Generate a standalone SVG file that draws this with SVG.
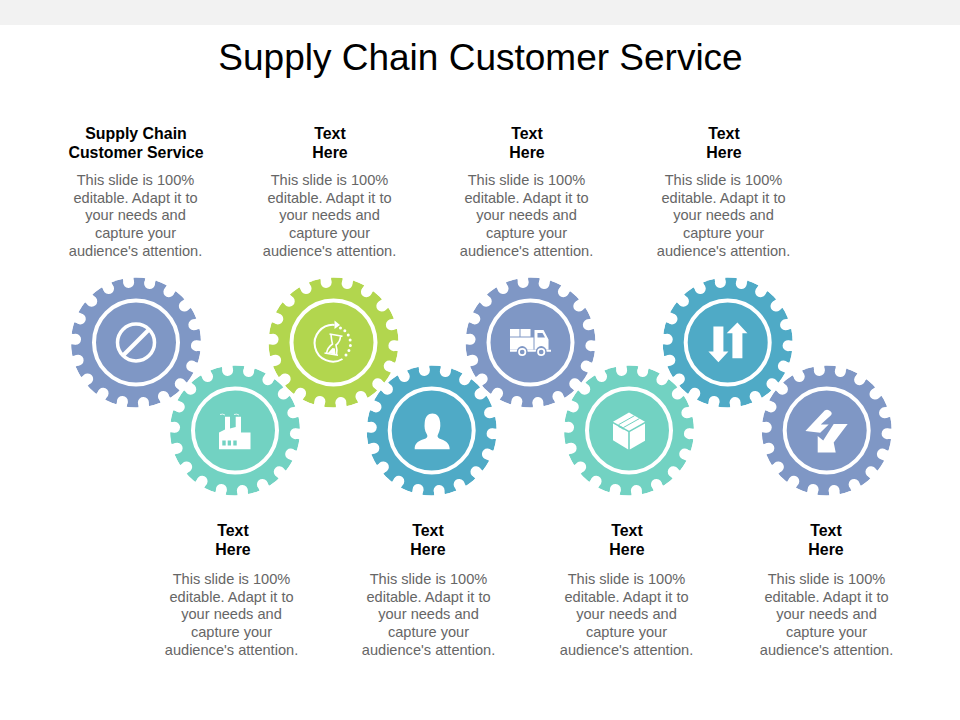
<svg xmlns="http://www.w3.org/2000/svg" width="960" height="720" viewBox="0 0 960 720">
<style>
text{font-family:"Liberation Sans",Arial,sans-serif;text-anchor:middle}
.title{font-size:37px;fill:#000}
.head{font-size:15.9px;font-weight:700;fill:#000}
.body{font-size:14.6px;fill:#666}
.ring{fill:none;stroke:#fff;stroke-width:4}
.w{fill:#fff}
.ln{fill:none;stroke:#fff}
.c1{fill:#7f97c5}.c2{fill:#72d2c2}.c3{fill:#b2d64e}.c4{fill:#4faac6}
</style>
<defs>
<mask id="gm" maskUnits="userSpaceOnUse" x="-70" y="-70" width="140" height="140">
<circle r="65" fill="#fff"/>
<circle r="60.5" transform="rotate(3)" fill="none" stroke="#000" stroke-width="11" stroke-linecap="round" pathLength="18" stroke-dasharray="0 1"/>
<circle r="63.5" transform="rotate(3)" fill="none" stroke="#000" stroke-width="7" pathLength="18" stroke-dasharray="0.48 0.52" stroke-dashoffset="0.24"/>
</mask>
</defs>
<rect width="960" height="720" fill="#fff"/>
<rect width="960" height="25" fill="#f2f2f2"/>
<text class="title" x="480.5" y="70">Supply Chain Customer Service</text>

<g id="gear-1" transform="translate(136,342.5)">
<circle r="65" class="c1" mask="url(#gm)"/><circle r="42" class="ring"/>
<circle r="18.5" class="ln" stroke-width="3.5"/><path d="M-13,13L13,-13" class="ln" stroke-width="4"/>
</g>
<g id="gear-2" transform="translate(235,430.5)">
<circle r="65" class="c2" mask="url(#gm)"/><circle r="42" class="ring"/>
<path class="w" d="M-16,18.7V2L-10,-1V-13.7H-5V-2L0.7,-3.5V-13.7H6V-2V2H15.5V18.7Z"/>
<path class="c2" d="M-12.7,10H-9.3V15H-12.7ZM-7.3,10H-4V15H-7.3ZM-1.7,10H1.7V15H-1.7Z"/>
<path class="ln" stroke-width="0.8" d="M-15,-16Q-12,-17 -10,-15.5M-1,-16Q2,-17 4,-15.5"/>
</g>
<g id="gear-3" transform="translate(333.5,342.5)">
<circle r="65" class="c3" mask="url(#gm)"/><circle r="42" class="ring"/>
<path class="ln" stroke-width="2" d="M1,-17.6A18.4,18.4 0 1 0 9,16.5"/>
<path class="w" d="M1,-22L6.5,-17.5L1,-13.5Z"/>
<path class="ln" stroke-width="3" stroke-linecap="round" stroke-dasharray="0 5.3" d="M7,-14.5A17,17 0 0 1 12,13"/>
<path class="ln" stroke-width="1.6" d="M-4,-8.5L9,-6.3M-9,10.5L4.5,12.7M-2.5,-8Q-2,-2 -1,1.5Q-6,5 -7,10.8M7,-6.7Q7,-1 2.5,2.5Q4,7 3,12.5"/>
<path class="w" d="M-5.5,10.5L-1,5.5L1.5,6L2,12Z"/>
</g>
<g id="gear-4" transform="translate(431.7,430.5)">
<circle r="65" class="c4" mask="url(#gm)"/><circle r="42" class="ring"/>
<path class="w" d="M-17,18.7C-17.5,12 -12,10 -6,8C-4,7 -4,5 -5,3.5C-7,0 -7.5,-3 -7,-8C-6.5,-14 -3.5,-17 0.7,-17C5,-17 8,-14 8.5,-8C9,-3 8,0 6.5,3.5C5.5,5 5.5,7 7.5,8C13,10 18,12 18,18.7Z"/>
</g>
<g id="gear-5" transform="translate(530.5,342.5)">
<circle r="65" class="c1" mask="url(#gm)"/><circle r="42" class="ring"/>
<path class="w" d="M-20.5,-13.5H-11V-6H-20.5ZM-10,-13.5H0V-6H-10ZM-20.5,-5H3V7H-20.5ZM4,-12.5H13L18,-3V7H4ZM-20.5,7.3H20.5V9.3H-20.5Z"/>
<path class="c1" d="M7,-9.5H12L14.5,-5H7Z"/>
<circle cx="-8.3" cy="9" r="5.4" class="c1"/><circle cx="10.7" cy="9" r="5.4" class="c1"/>
<circle cx="-8.3" cy="9.5" r="3.2" class="ln" stroke-width="1.7"/><circle cx="10.7" cy="9.5" r="3.2" class="ln" stroke-width="1.7"/>
</g>
<g id="gear-6" transform="translate(629,430.5)">
<circle r="65" class="c2" mask="url(#gm)"/><circle r="42" class="ring"/>
<path class="w" d="M0,-18L16,-8.7L0,0.2L-16,-8.7ZM-16,-7L-0.8,1.5V19L-16,9.7ZM16,-7L0.8,1.5V19L16,10.3Z"/>
<path class="ln" style="stroke:#72d2c2" stroke-width="1" d="M-10.5,-5.8L5.5,-14.8M-5.5,-3L10.5,-12"/>
<path class="c2" d="M-10.5,-5.5L-5.5,-3V-0.5L-7.5,-2L-10.5,-3.5Z"/>
</g>
<g id="gear-7" transform="translate(727.7,342.5)">
<circle r="65" class="c4" mask="url(#gm)"/><circle r="42" class="ring"/>
<path class="w" d="M-14.3,-16H-4.3V9H0.7L-9.3,19.7L-19.3,9H-14.3ZM4.7,15.7H14.7V-9.3H19.7L9.7,-20L-1,-9.3H4.7Z"/>
</g>
<g id="gear-8" transform="translate(826.7,430.5)">
<circle r="65" class="c1" mask="url(#gm)"/><circle r="42" class="ring"/>
<path class="w" d="M-2,-20Q1,-22 4,-19Q6,-17 4,-15L-6,-6H2L-6.5,2.3L-21.3,0.5ZM7,-6.5H21L7,12L9,22H-9V5.5L-3.5,10Z"/>
</g>

<g id="label-1"><text class="head" x="136" y="138.5">Supply Chain</text><text class="head" x="136" y="157.5">Customer Service</text>
<g class="body"><text x="135.5" y="185">This slide is 100%</text><text x="135.5" y="203">editable. Adapt it to</text><text x="135.5" y="220">your needs and</text><text x="135.5" y="238">capture your</text><text x="135.5" y="256">audience's attention.</text></g></g>
<g id="label-2"><text class="head" x="330" y="138.5">Text</text><text class="head" x="330" y="157.5">Here</text>
<g class="body"><text x="329.5" y="185">This slide is 100%</text><text x="329.5" y="203">editable. Adapt it to</text><text x="329.5" y="220">your needs and</text><text x="329.5" y="238">capture your</text><text x="329.5" y="256">audience's attention.</text></g></g>
<g id="label-3"><text class="head" x="527" y="138.5">Text</text><text class="head" x="527" y="157.5">Here</text>
<g class="body"><text x="526.5" y="185">This slide is 100%</text><text x="526.5" y="203">editable. Adapt it to</text><text x="526.5" y="220">your needs and</text><text x="526.5" y="238">capture your</text><text x="526.5" y="256">audience's attention.</text></g></g>
<g id="label-4"><text class="head" x="724" y="138.5">Text</text><text class="head" x="724" y="157.5">Here</text>
<g class="body"><text x="723.5" y="185">This slide is 100%</text><text x="723.5" y="203">editable. Adapt it to</text><text x="723.5" y="220">your needs and</text><text x="723.5" y="238">capture your</text><text x="723.5" y="256">audience's attention.</text></g></g>
<g id="label-5"><text class="head" x="233" y="535.5">Text</text><text class="head" x="233" y="554.5">Here</text>
<g class="body"><text x="231.5" y="584">This slide is 100%</text><text x="231.5" y="602">editable. Adapt it to</text><text x="231.5" y="619">your needs and</text><text x="231.5" y="637">capture your</text><text x="231.5" y="655">audience's attention.</text></g></g>
<g id="label-6"><text class="head" x="428" y="535.5">Text</text><text class="head" x="428" y="554.5">Here</text>
<g class="body"><text x="428.5" y="584">This slide is 100%</text><text x="428.5" y="602">editable. Adapt it to</text><text x="428.5" y="619">your needs and</text><text x="428.5" y="637">capture your</text><text x="428.5" y="655">audience's attention.</text></g></g>
<g id="label-7"><text class="head" x="627" y="535.5">Text</text><text class="head" x="627" y="554.5">Here</text>
<g class="body"><text x="626.5" y="584">This slide is 100%</text><text x="626.5" y="602">editable. Adapt it to</text><text x="626.5" y="619">your needs and</text><text x="626.5" y="637">capture your</text><text x="626.5" y="655">audience's attention.</text></g></g>
<g id="label-8"><text class="head" x="826" y="535.5">Text</text><text class="head" x="826" y="554.5">Here</text>
<g class="body"><text x="826.5" y="584">This slide is 100%</text><text x="826.5" y="602">editable. Adapt it to</text><text x="826.5" y="619">your needs and</text><text x="826.5" y="637">capture your</text><text x="826.5" y="655">audience's attention.</text></g></g>
</svg>
